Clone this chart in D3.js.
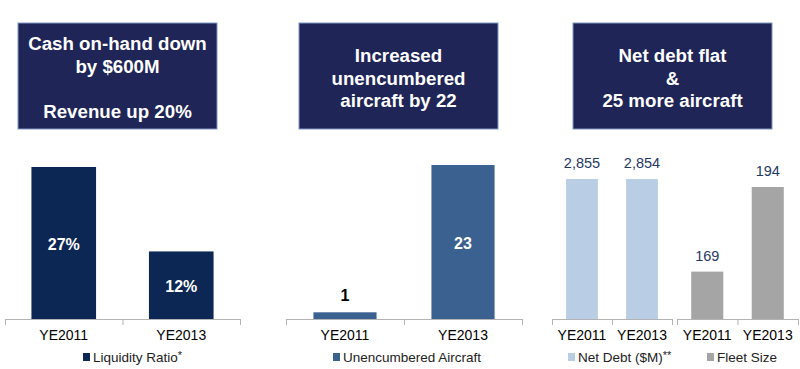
<!DOCTYPE html>
<html>
<head>
<meta charset="utf-8">
<script src="https://cdn.jsdelivr.net/npm/d3@7"></script>
<style>
  body { margin: 0; background: #fff; }
  svg { display: block; font-family: "Liberation Sans", Arial, sans-serif; }
</style>
</head>
<body>
<div id="chart"></div>
<script>
    const categories = ["YE2011", "YE2013"];
    const liquidityRatio = [27, 12];
    const unencumbered = [1, 23];
    const netDebt = [2855, 2854];
    const fleetSize = [169, 194];

    const titles = [
        ["Cash on-hand down", "by $600M", "", "Revenue up 20%"],
        ["Increased", "unencumbered", "aircraft by 22"],
        ["Net debt flat", "&", "25 more aircraft"]
    ];

    const w = 800;
    const h = 369;
    const baseY = 319;

    const svg = d3.select('#chart')
        .append('svg')
        .attr('width', w)
        .attr('height', h);

    // title boxes
    const boxX = [18, 299, 573];
    const boxW = 199;
    titles.forEach(function (lines, i) {
        const g = svg.append('g').attr('transform', 'translate(' + boxX[i] + ',23)');
        g.append('rect')
            .attr('width', boxW)
            .attr('height', 106)
            .attr('fill', '#1f2556')
            .attr('stroke', '#7f97c4')
            .attr('stroke-width', 1);
        const top = lines.length === 4 ? 27 : 39;
        lines.forEach(function (t, j) {
            g.append('text')
                .attr('x', boxW / 2)
                .attr('y', top + j * 22.5)
                .attr('text-anchor', 'middle')
                .attr('fill', '#fff')
                .style('font-size', '18.7px')
                .style('font-weight', 'bold')
                .text(t);
        });
    });

    // one small bar chart
    function barChart(opts) {
        const x = d3.scaleBand()
            .domain(categories)
            .range(opts.range)
            .paddingInner(opts.pad)
            .paddingOuter(opts.pad / 2);

        const y = d3.scaleLinear()
            .domain(opts.domain)
            .range([baseY, baseY - opts.height]);

        const g = svg.append('g');

        g.selectAll('rect.bar')
            .data(opts.values)
            .enter()
            .append('rect')
            .attr('class', 'bar')
            .attr('x', (d, i) => x(categories[i]))
            .attr('y', (d) => y(d))
            .attr('width', x.bandwidth())
            .attr('height', (d) => baseY - y(d))
            .attr('fill', opts.color);

        // value labels
        g.selectAll('text.val')
            .data(opts.values)
            .enter()
            .append('text')
            .attr('class', 'val')
            .attr('x', (d, i) => x(categories[i]) + x.bandwidth() / 2)
            .attr('y', function (d, i) {
                if (opts.inside[i]) return (y(d) + baseY) / 2 + 7;
                return y(d) - 11;
            })
            .attr('text-anchor', 'middle')
            .attr('fill', (d, i) => opts.inside[i] ? '#fff' : opts.labelColor)
            .style('font-size', opts.labelSize)
            .style('font-weight', opts.labelBold ? 'bold' : 'normal')
            .text((d) => opts.format(d));

        // axis
        const xAxis = d3.axisBottom(x).tickSize(0).tickPadding(11);
        const ax = g.append('g')
            .attr('transform', 'translate(0,' + baseY + ')')
            .call(xAxis);
        ax.select('.domain').remove();
        ax.selectAll('text')
            .style('font-size', '14px')
            .style('font-family', '"Liberation Sans", Arial, sans-serif')
            .attr('fill', '#000');

        const r = x.range();
        g.append('line')
            .attr('x1', r[0]).attr('x2', r[1])
            .attr('y1', baseY + 0.5).attr('y2', baseY + 0.5)
            .attr('stroke', '#b3b3b3');
        const ticks = [r[0], x(categories[1]) - x.step() * x.paddingInner() / 2, r[1]];
        g.selectAll('line.tick')
            .data(ticks)
            .enter()
            .append('line')
            .attr('class', 'tick')
            .attr('x1', (d) => d + 0.5).attr('x2', (d) => d + 0.5)
            .attr('y1', baseY).attr('y2', baseY + 6)
            .attr('stroke', '#b3b3b3');

        // legend
        const lg = g.append('g').attr('transform', 'translate(' + opts.legendX + ',357)');
        lg.append('rect')
            .attr('x', 0).attr('y', -4)
            .attr('width', 7).attr('height', 8)
            .attr('fill', opts.color);
        const lt = lg.append('text')
            .attr('x', 10)
            .attr('y', 5)
            .style('font-size', '13.5px')
            .attr('fill', '#222')
            .text(opts.legend);
        if (opts.legendSup) {
            lt.append('tspan')
                .attr('dy', -3)
                .style('font-size', '11px')
                .text(opts.legendSup);
        }
    }

    barChart({
        values: liquidityRatio,
        range: [5, 240],
        pad: 0.45,
        domain: [0, 27],
        height: 152,
        color: '#0c2753',
        inside: [true, true],
        labelColor: '#fff',
        labelSize: '16px',
        labelBold: true,
        format: (d) => d + '%',
        legendX: 83,
        legend: 'Liquidity Ratio',
        legendSup: '*'
    });

    barChart({
        values: unencumbered,
        range: [286, 522],
        pad: 0.465,
        domain: [0, 23],
        height: 154,
        color: '#3a6190',
        inside: [false, true],
        labelColor: '#000',
        labelSize: '16px',
        labelBold: true,
        format: (d) => d,
        legendX: 333,
        legend: 'Unencumbered Aircraft'
    });

    barChart({
        values: netDebt,
        range: [552, 672],
        pad: 0.47,
        domain: [0, 2855],
        height: 140,
        color: '#b9cde5',
        inside: [false, false],
        labelColor: '#1f3864',
        labelSize: '14.5px',
        labelBold: false,
        format: d3.format(','),
        legendX: 568,
        legend: 'Net Debt ($M)',
        legendSup: '**'
    });

    barChart({
        values: fleetSize,
        range: [677, 798],
        pad: 0.47,
        domain: [155, 194],
        height: 132,
        color: '#a5a5a5',
        inside: [false, false],
        labelColor: '#1f3864',
        labelSize: '14.5px',
        labelBold: false,
        format: (d) => d,
        legendX: 707,
        legend: 'Fleet Size'
    });
</script>
</body>
</html>
